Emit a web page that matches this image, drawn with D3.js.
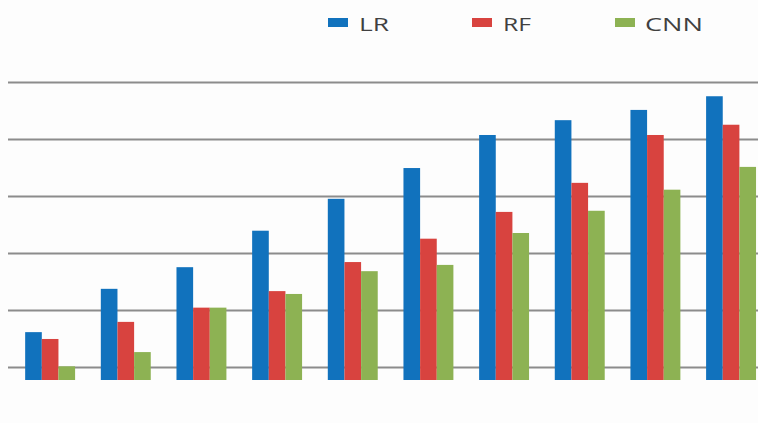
<!DOCTYPE html>
<html>
<head>
<meta charset="utf-8">
<script src="https://cdn.jsdelivr.net/npm/d3@7"></script>
<style>
    body { margin: 0; background: #fdfdfd; }
    svg { display: block; }
</style>
</head>
<body>
<div id="chart"></div>
<script>
var categories = ['1', '2', '3', '4', '5', '6', '7', '8', '9', '10'];
var seriesNames = ['LR', 'RF', 'CNN'];
var lrValues = [16.1, 23.7, 27.5, 33.9, 39.5, 44.9, 50.7, 53.3, 55.1, 57.5];
var rfValues = [14.9, 17.9, 20.4, 23.3, 28.4, 32.5, 37.2, 42.3, 50.7, 52.5];
var cnnValues = [10.1, 12.6, 20.4, 22.8, 26.8, 27.9, 33.5, 37.4, 41.1, 45.1];
var gridTicks = [10, 20, 30, 40, 50, 60];
var colors = ['#1172bd', '#d8433f', '#8db253'];

var width = 758,
    height = 423;

var svg = d3.select('#chart')
    .append('svg')
    .attr('width', width)
    .attr('height', height);

var x0 = d3.scaleBand()
    .domain(categories)
    .range([12.3, 768.9])
    .paddingInner(0.34)
    .paddingOuter(0.17);

var x1 = d3.scaleBand()
    .domain(seriesNames)
    .range([0, x0.bandwidth()]);

// baseline of the bars sits a little under the lowest grid line
var y = d3.scaleLinear()
    .domain([7.7, 60])
    .range([380, 82]);

var gridAxis = d3.axisLeft(y)
    .tickValues(gridTicks)
    .tickSize(-(width - 8))
    .tickFormat('');

svg.append('g')
    .attr('class', 'grid')
    .attr('transform', 'translate(8,0)')
    .call(gridAxis)
    .call(function (g) {
        g.select('.domain').remove();
        g.selectAll('.tick line')
            .attr('stroke', '#8c8c8c')
            .attr('stroke-width', 2);
    });

var rows = categories.map(function (c, i) {
    return { cat: c, values: [lrValues[i], rfValues[i], cnnValues[i]] };
});

var groups = svg.append('g')
    .selectAll('g')
    .data(rows)
    .enter()
    .append('g')
    .attr('transform', function (d) { return 'translate(' + x0(d.cat) + ',0)'; });

groups.selectAll('rect')
    .data(function (d) {
        return d.values.map(function (v, k) { return { name: seriesNames[k], value: v, k: k }; });
    })
    .enter()
    .append('rect')
    .attr('x', function (d) { return x1(d.name); })
    .attr('width', x1.bandwidth())
    .attr('y', function (d) { return y(d.value); })
    .attr('height', function (d) { return y(y.domain()[0]) - y(d.value); })
    .attr('fill', function (d) { return colors[d.k]; });

// legend
var legendX = [328, 472, 615];
var textLen = [30, 28, 58];

var legend = svg.append('g')
    .selectAll('g')
    .data(seriesNames)
    .enter()
    .append('g')
    .attr('transform', function (d, i) { return 'translate(' + legendX[i] + ',0)'; });

legend.append('rect')
    .attr('x', 0)
    .attr('y', 18)
    .attr('width', 20)
    .attr('height', 9)
    .attr('fill', function (d, i) { return colors[i]; });

legend.append('text')
    .attr('x', function (d, i) { return i === 2 ? 30 : 31; })
    .attr('y', 31)
    .attr('fill', '#404040')
    .style('font-family', 'Open Sans')
    .style('font-size', '18px')
    .attr('textLength', function (d, i) { return textLen[i]; })
    .attr('lengthAdjust', 'spacingAndGlyphs')
    .text(function (d) { return d; });
</script>
</body>
</html>
